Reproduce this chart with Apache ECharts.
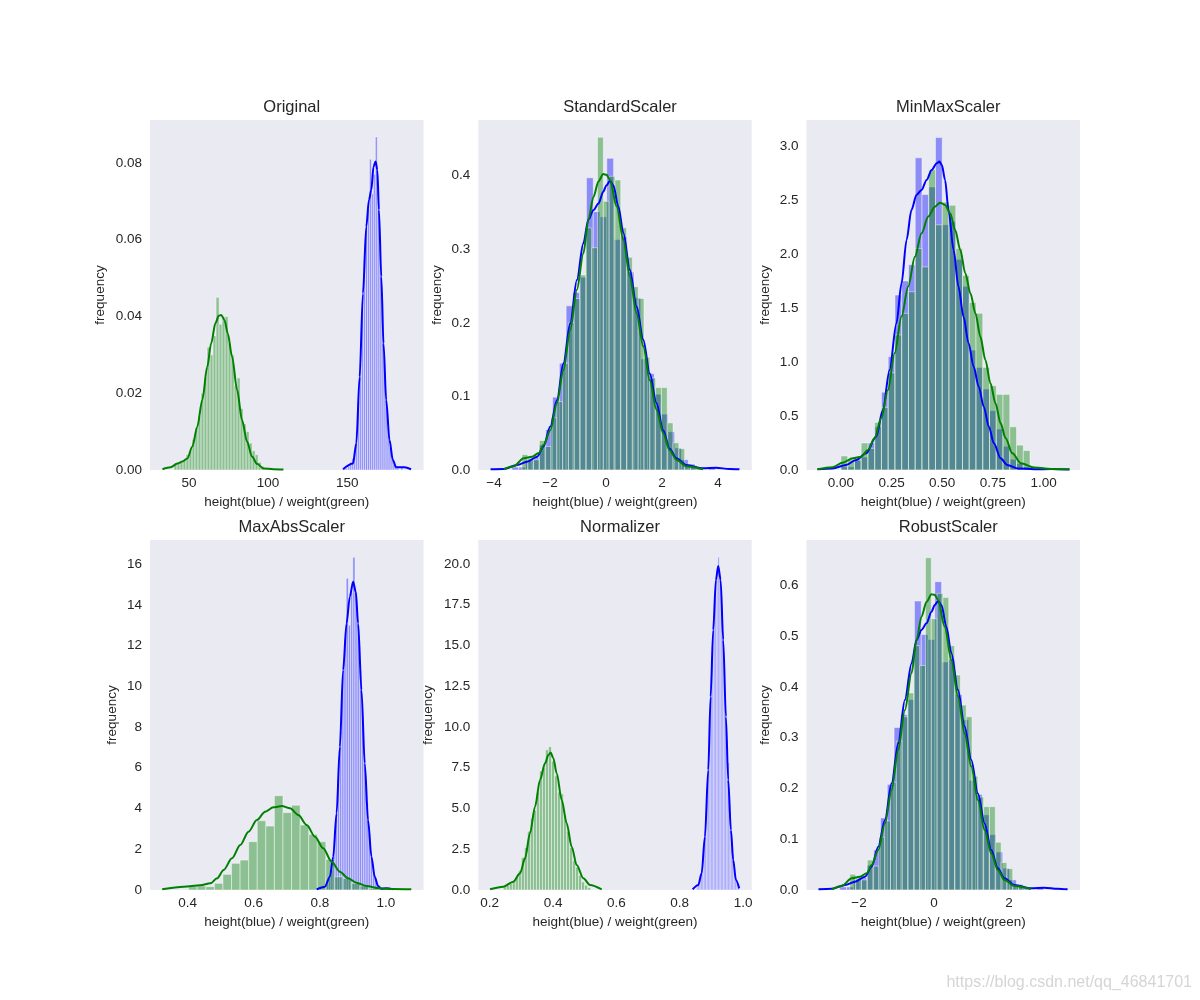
<!DOCTYPE html>
<html><head><meta charset="utf-8">
<script src="https://cdn.jsdelivr.net/npm/echarts@6/dist/echarts.min.js"></script>
<style>html,body{margin:0;padding:0;background:#fff}#c{width:1200px;height:1000px}</style>
</head><body><div id="c"></div>
<script>
// ---------------- DATA ----------------
const titles = ['Original','StandardScaler','MinMaxScaler','MaxAbsScaler','Normalizer','RobustScaler'];
const xLabelText = 'height(blue) / weight(green)';
const yLabelText = 'frequency';

// Original
const origXTicks = [50,100,150];
const origYTicks = [0,0.02,0.04,0.06,0.08];
const origBlueEdges = [148.0, 185.2];
const origBlueHeights = [0.0005,0.0005,0.001,0.002,0.003,0.005,0.010,0.018,0.028,0.042,0.055,0.064,0.068,0.081,0.072,0.077,0.0868,0.074,0.060,0.044,0.030,0.019,0.011,0.006,0.003,0.0015,0.001,0.0005,0,0.0008];
const origGreenEdges = [40.5, 97.5];
const origGreenHeights = [0.0015,0.002,0.002,0.0025,0.004,0.005,0.008,0.011,0.014,0.020,0.024,0.032,0.030,0.035,0.045,0.038,0.040,0.040,0.033,0.030,0.022,0.024,0.016,0.012,0.010,0.007,0.005,0.004,0.002,0.001];
const origBlueKdeX = [147.4,153.7,155.8,157.9,160.0,162.1,163.8,165.3,166.7,168.0,169.1,170.1,171.6,173.0,174.7,176.8,178.9,181.0,186.2,190.4];
const origBlueKdeY = [0.0002,0.0017,0.007,0.0243,0.046,0.0634,0.0704,0.073,0.0791,0.0804,0.0782,0.0678,0.0504,0.033,0.0183,0.0078,0.0026,0.0007,0.0007,0.0002];
const origGreenKdeX = [33.2,38.4,42.6,45.8,48.9,52.1,55.2,58.4,61.5,64.0,66.7,68.8,70.3,72.4,74.5,77.2,80.4,83.5,86.7,89.8,93.0,97.1,103.4,109.7];
const origGreenKdeY = [0.0002,0.0007,0.0017,0.0022,0.003,0.0061,0.0113,0.0183,0.0269,0.033,0.0383,0.0402,0.0404,0.0391,0.0356,0.0296,0.0209,0.013,0.0074,0.0035,0.0016,0.0004,0.0002,0.0001];

// StandardScaler
const stdXTicks = [-4,-2,0,2,4];
const stdYTicks = [0,0.1,0.2,0.3,0.4];
const stdBlueEdges = [-3.36, 3.9];
const stdBlueHeights = [0.004,0.004,0.014,0.017,0.034,0.055,0.099,0.145,0.223,0.241,0.262,0.397,0.351,0.344,0.4235,0.313,0.317,0.269,0.234,0.151,0.131,0.103,0.076,0.052,0.030,0.014,0.008,0.004,0,0.004];
const stdGreenEdges = [-3.0, 3.22];
const stdGreenHeights = [0.021,0.016,0.014,0.040,0.032,0.071,0.093,0.145,0.20,0.233,0.265,0.329,0.302,0.452,0.365,0.399,0.394,0.329,0.289,0.249,0.233,0.153,0.125,0.112,0.112,0.064,0.037,0.029,0.005,0.005];
const stdBlueKdeX = [-4.12,-3.65,-3.17,-2.82,-2.46,-2.23,-1.99,-1.75,-1.52,-1.28,-1.04,-0.81,-0.63,-0.45,-0.27,-0.10,0.02,0.14,0.26,0.44,0.62,0.85,1.09,1.33,1.56,1.80,2.04,2.27,2.51,2.87,3.46,3.93,4.40,4.76];
const stdBlueKdeY = [0.001,0.0014,0.0068,0.0113,0.018,0.032,0.059,0.095,0.145,0.199,0.258,0.308,0.340,0.353,0.362,0.378,0.387,0.393,0.387,0.358,0.322,0.272,0.222,0.177,0.131,0.091,0.054,0.029,0.016,0.0068,0.0023,0.003,0.0014,0.001];
const stdGreenKdeX = [-3.65,-3.29,-2.94,-2.64,-2.40,-2.23,-1.99,-1.75,-1.52,-1.28,-1.04,-0.81,-0.63,-0.45,-0.27,-0.10,0.02,0.14,0.38,0.62,0.85,1.09,1.33,1.56,1.80,2.04,2.27,2.51,2.87,3.46];
const stdGreenKdeY = [0.001,0.005,0.016,0.018,0.023,0.034,0.054,0.091,0.136,0.190,0.245,0.294,0.340,0.371,0.392,0.402,0.401,0.394,0.358,0.3125,0.263,0.213,0.168,0.122,0.082,0.050,0.027,0.014,0.005,0.001];

// MinMaxScaler
const mmXTicks = [0,0.25,0.5,0.75,1.0];
const mmYTicks = [0,0.5,1.0,1.5,2.0,2.5,3.0];
const mmBlueEdges = [0, 1];
const mmBlueHeights = [0.03,0.03,0.10,0.12,0.25,0.40,0.72,1.05,1.62,1.75,1.90,2.89,2.55,2.62,3.077,2.27,2.30,1.95,1.70,1.11,0.95,0.75,0.55,0.38,0.22,0.10,0.06,0.03,0,0.03];
const mmGreenEdges = [0, 1];
const mmGreenHeights = [0.13,0.10,0.09,0.25,0.20,0.44,0.58,0.90,1.25,1.45,1.65,2.05,1.88,2.78,2.27,2.48,2.45,2.05,1.80,1.55,1.45,0.95,0.78,0.70,0.70,0.40,0.23,0.18,0.03,0.03];
const mmBlueKdeX = [-0.116,-0.042,0.025,0.075,0.124,0.174,0.207,0.240,0.274,0.299,0.324,0.348,0.373,0.398,0.423,0.448,0.473,0.486,0.498,0.514,0.531,0.556,0.580,0.605,0.630,0.655,0.680,0.705,0.730,0.755,0.788,0.821,0.871,0.954,1.04,1.128];
const mmBlueKdeY = [0.006,0.015,0.046,0.093,0.154,0.309,0.556,0.926,1.358,1.728,2.130,2.407,2.546,2.593,2.685,2.778,2.840,2.855,2.824,2.685,2.407,2.037,1.698,1.420,1.173,0.957,0.772,0.586,0.401,0.247,0.108,0.046,0.015,0.006,0.01,0.004];
const mmGreenKdeX = [-0.116,-0.042,0.008,0.058,0.100,0.133,0.166,0.199,0.232,0.265,0.299,0.332,0.365,0.398,0.431,0.464,0.489,0.514,0.539,0.564,0.589,0.614,0.639,0.664,0.688,0.713,0.738,0.763,0.788,0.813,0.846,0.888,0.954,1.037,1.128];
const mmGreenKdeY = [0.006,0.025,0.068,0.108,0.123,0.185,0.293,0.478,0.741,1.080,1.420,1.698,1.975,2.191,2.346,2.438,2.475,2.454,2.377,2.222,2.037,1.821,1.636,1.451,1.235,1.019,0.802,0.617,0.432,0.293,0.154,0.062,0.022,0.009,0.006];

// MaxAbsScaler
const maXTicks = [0.4,0.6,0.8,1.0];
const maYTicks = [0,2,4,6,8,10,12,14,16];
const maBlueEdges = [0.80, 1.0];
const maBlueHeights = [0.1,0.1,0.2,0.3,0.6,1.0,2.0,3.5,5.5,7.8,10.5,12.3,15.3,13.0,14.6,16.33,14.6,13.0,10.8,8.3,6.0,4.3,2.8,1.6,0.9,0.5,0.25,0.1,0.05,0.1];
const maGreenEdges = [0.403, 1.0];
const maGreenHeights = [0.164,0.196,0.164,0.327,0.769,1.31,1.47,2.37,3.40,3.14,4.63,3.80,4.16,3.19,2.73,2.37,1.50,0.65,0.57,0.33,0.20,0.08,0.05];
const maBlueKdeX = [0.7905,0.8155,0.8306,0.8406,0.8508,0.8608,0.8707,0.881,0.891,0.9009,0.909,0.916,0.9262,0.9362,0.9461,0.9564,0.9663,0.9763,0.9866,1.0016,1.0215];
const maBlueKdeY = [0.033,0.164,0.654,1.636,3.763,7.036,10.80,13.09,14.40,15.13,14.64,13.09,9.82,6.22,3.44,1.636,0.654,0.196,0.065,0.082,0.033];
const maGreenKdeX = [0.323,0.388,0.4386,0.4688,0.489,0.5089,0.5342,0.5592,0.5843,0.6096,0.6346,0.6597,0.685,0.71,0.735,0.7604,0.7854,0.8104,0.8358,0.8608,0.8858,0.9111,0.9413,0.9814,1.0215,1.077];
const maGreenKdeY = [0.033,0.164,0.229,0.327,0.573,0.982,1.554,2.209,2.863,3.436,3.845,4.058,4.123,4.008,3.681,3.190,2.618,2.045,1.39,0.90,0.573,0.36,0.196,0.082,0.049,0.033];

// Normalizer
const nmXTicks = [0.2,0.4,0.6,0.8,1.0];
const nmYTicks = [0,2.5,5,7.5,10,12.5,15,17.5,20];
const nmBlueEdges = [0.853, 0.988];
const nmBlueHeights = [0.3,0.4,0.7,1.0,1.8,2.8,4.0,5.8,8.0,10.5,13.0,14.8,16.5,18.8,19.6,20.41,19.2,17.5,15.8,13.0,10.5,8.5,7.8,4.8,3.4,2.2,1.4,0.8,0.4,0.2];
const nmGreenEdges = [0.243, 0.5185];
const nmGreenHeights = [0.2,0.3,0.4,0.6,0.8,1.2,2.0,2.6,3.6,4.4,4.9,6.0,7.3,7.5,8.6,8.79,7.9,7.0,6.0,5.9,4.6,3.6,2.6,1.8,1.4,0.9,0.5,0.3,0.15];
const nmBlueKdeX = [0.8408,0.8585,0.8692,0.8796,0.8901,0.8976,0.9058,0.9143,0.9216,0.9292,0.9374,0.9459,0.9532,0.9617,0.969,0.9775,0.9879];
const nmBlueKdeY = [0.041,0.307,1.02,3.27,7.36,11.86,15.95,19.02,19.88,19.02,15.34,10.63,6.75,3.68,1.84,0.61,0.10];
const nmGreenKdeX = [0.201,0.243,0.2745,0.2956,0.3114,0.3272,0.343,0.3588,0.3746,0.385,0.3926,0.4008,0.4115,0.4273,0.4431,0.4588,0.4746,0.4955,0.5166,0.5535];
const nmGreenKdeY = [0.041,0.204,0.511,1.02,1.94,3.48,5.11,6.75,7.77,8.28,8.43,8.08,7.16,5.52,4.09,2.66,1.53,0.72,0.31,0.041];

// RobustScaler
const rbXTicks = [-2,0,2];
const rbYTicks = [0,0.1,0.2,0.3,0.4,0.5,0.6];
const rbBlueEdges = [-2.513, 2.916];
const rbBlueHeights = [0.006,0.006,0.020,0.024,0.049,0.079,0.142,0.208,0.320,0.345,0.375,0.569,0.503,0.493,0.607,0.449,0.454,0.385,0.335,0.216,0.188,0.148,0.109,0.075,0.043,0.020,0.011,0.006,0,0.006];
const rbGreenEdges = [-2.245, 2.407];
const rbGreenHeights = [0.031,0.023,0.020,0.059,0.047,0.104,0.136,0.212,0.293,0.341,0.388,0.481,0.442,0.654,0.534,0.584,0.576,0.481,0.423,0.364,0.341,0.224,0.183,0.164,0.164,0.094,0.054,0.042,0.007,0.007];
const rbBlueKdeX = [-3.081,-2.725,-2.372,-2.106,-1.841,-1.663,-1.487,-1.309,-1.131,-0.956,-0.778,-0.600,-0.467,-0.335,-0.202,-0.069,0.019,0.106,0.196,0.329,0.462,0.637,0.815,0.993,1.169,1.347,1.525,1.700,1.878,2.143,2.587,2.94,3.293,3.559];
const rbBlueKdeY = [0.0013,0.0026,0.0098,0.0164,0.0262,0.0459,0.0853,0.138,0.210,0.289,0.374,0.446,0.492,0.512,0.525,0.548,0.561,0.569,0.561,0.518,0.466,0.394,0.322,0.256,0.190,0.131,0.0787,0.0427,0.0230,0.0098,0.0033,0.0046,0.0026,0.0013];
const rbGreenKdeX = [-2.725,-2.46,-2.194,-1.973,-1.796,-1.663,-1.487,-1.309,-1.131,-0.956,-0.778,-0.600,-0.467,-0.335,-0.202,-0.069,0.019,0.106,0.284,0.462,0.637,0.815,0.993,1.169,1.347,1.525,1.700,1.878,2.143,2.587];
const rbGreenKdeY = [0.0013,0.0079,0.0230,0.0262,0.0328,0.0492,0.0787,0.131,0.197,0.276,0.354,0.427,0.492,0.538,0.567,0.582,0.581,0.571,0.518,0.453,0.381,0.308,0.243,0.177,0.118,0.0722,0.0394,0.0197,0.0079,0.002];

// ---------------- LAYOUT / STYLE ----------------
const FONT = '"Liberation Sans", Arial, sans-serif';
const TXT = '#262626';
const BLUE = '#0000ff', GREEN = '#008000';
const BLUE_FILL = 'rgba(0,0,255,0.4)', GREEN_FILL = 'rgba(0,128,0,0.4)';
const colLeft = [150, 478.25, 806.5], rowTop = [120, 540], PW = 273.5, PH = 350;

const panels = [
  {x:[25.3,198.3], y:[0,0.0912], xt:origXTicks, yt:origYTicks, xd:0, yd:2, yGap:50,
   bh:[origBlueEdges,origBlueHeights], gh:[origGreenEdges,origGreenHeights],
   bk:[origBlueKdeX,origBlueKdeY], gk:[origGreenKdeX,origGreenKdeY]},
  {x:[-4.56,5.2], y:[0,0.4755], xt:stdXTicks, yt:stdYTicks, xd:0, yd:1, yGap:41,
   bh:[stdBlueEdges,stdBlueHeights], gh:[stdGreenEdges,stdGreenHeights],
   bk:[stdBlueKdeX,stdBlueKdeY], gk:[stdGreenKdeX,stdGreenKdeY]},
  {x:[-0.17,1.18], y:[0,3.24], xt:mmXTicks, yt:mmYTicks, xd:2, yd:1, yGap:41,
   bh:[mmBlueEdges,mmBlueHeights], gh:[mmGreenEdges,mmGreenHeights],
   bk:[mmBlueKdeX,mmBlueKdeY], gk:[mmGreenKdeX,mmGreenKdeY]},
  {x:[0.286,1.114], y:[0,17.18], xt:maXTicks, yt:maYTicks, xd:1, yd:0, yGap:38,
   bh:[maBlueEdges,maBlueHeights], gh:[maGreenEdges,maGreenHeights],
   bk:[maBlueKdeX,maBlueKdeY], gk:[maGreenKdeX,maGreenKdeY]},
  {x:[0.1637,1.0275], y:[0,21.47], xt:nmXTicks, yt:nmYTicks, xd:1, yd:1, yGap:50,
   bh:[nmBlueEdges,nmBlueHeights], gh:[nmGreenEdges,nmGreenHeights],
   bk:[nmBlueKdeX,nmBlueKdeY], gk:[nmGreenKdeX,nmGreenKdeY]},
  {x:[-3.4,3.89], y:[0,0.689], xt:rbXTicks, yt:rbYTicks, xd:0, yd:1, yGap:41,
   bh:[rbBlueEdges,rbBlueHeights], gh:[rbGreenEdges,rbGreenHeights],
   bk:[rbBlueKdeX,rbBlueKdeY], gk:[rbGreenKdeX,rbGreenKdeY]}
];

function fmt(v, d) { return v.toFixed(d).replace('-', '\u2212'); }

function histSeries(i, edges, heights, fill) {
  const n = heights.length, w = (edges[1] - edges[0]) / n;
  const data = heights.map((h, k) => [edges[0] + k * w, edges[0] + (k + 1) * w, h]);
  return {
    type: 'custom', xAxisIndex: i, yAxisIndex: i, silent: true, clip: true,
    dimensions: ['x0', 'x1', 'h'], encode: { x: [0, 1], y: 2 }, data,
    renderItem(params, api) {
      const p0 = api.coord([api.value(0), api.value(2)]);
      const p1 = api.coord([api.value(1), 0]);
      return { type: 'rect',
        shape: { x: p0[0], y: p0[1], width: p1[0] - p0[0], height: p1[1] - p0[1] },
        style: { fill: fill, stroke: 'rgba(255,255,255,0.45)', lineWidth: 1 } };
    }
  };
}
function kdeSeries(i, xs, ys, color) {
  return { type: 'line', xAxisIndex: i, yAxisIndex: i, silent: true, showSymbol: false,
    smooth: 0.3, smoothMonotone: 'x', data: xs.map((x, k) => [x, ys[k]]),
    lineStyle: { color: color, width: 2 }, clip: true };
}

const grid = [], xAxis = [], yAxis = [], series = [], title = [];
panels.forEach((p, i) => {
  const left = colLeft[i % 3], top = rowTop[Math.floor(i / 3)];
  grid.push({ left, top, width: PW, height: PH, show: true, backgroundColor: '#EAEAF2', borderWidth: 0, containLabel: false });
  title.push({ text: titles[i], left: left + PW / 2, top: top - 26, textAlign: 'center',
    textStyle: { fontFamily: FONT, fontSize: 16.5, fontWeight: 'normal', color: TXT } });
  xAxis.push({ type: 'value', gridIndex: i, min: p.x[0], max: p.x[1],
    name: xLabelText, nameLocation: 'middle', nameGap: 25,
    nameTextStyle: { fontFamily: FONT, fontSize: 13.5, color: TXT },
    axisLine: { show: false }, axisTick: { show: false }, splitLine: { show: false },
    axisLabel: { customValues: p.xt, formatter: v => fmt(v, p.xd), fontFamily: FONT, fontSize: 13.5, color: TXT, margin: 6 } });
  yAxis.push({ type: 'value', gridIndex: i, min: p.y[0], max: p.y[1],
    name: yLabelText, nameLocation: 'middle', nameGap: p.yGap - 7,
    nameTextStyle: { fontFamily: FONT, fontSize: 13.5, color: TXT },
    axisLine: { show: false }, axisTick: { show: false }, splitLine: { show: false },
    axisLabel: { customValues: p.yt, formatter: v => fmt(v, p.yd), fontFamily: FONT, fontSize: 13.5, color: TXT, margin: 8 } });
  series.push(histSeries(i, p.bh[0], p.bh[1], BLUE_FILL));
  series.push(kdeSeries(i, p.bk[0], p.bk[1], BLUE));
  series.push(histSeries(i, p.gh[0], p.gh[1], GREEN_FILL));
  series.push(kdeSeries(i, p.gk[0], p.gk[1], GREEN));
});

const chart = echarts.init(document.getElementById('c'), null, { renderer: 'canvas' });
chart.setOption({
  animation: false, backgroundColor: '#ffffff',
  title, grid, xAxis, yAxis, series,
  graphic: [{ type: 'text', right: 8, bottom: 9,
    style: { text: 'https://blog.csdn.net/qq_46841701', fontFamily: FONT, fontSize: 16, fill: '#d5d5d5' } }]
});
</script></body></html>
